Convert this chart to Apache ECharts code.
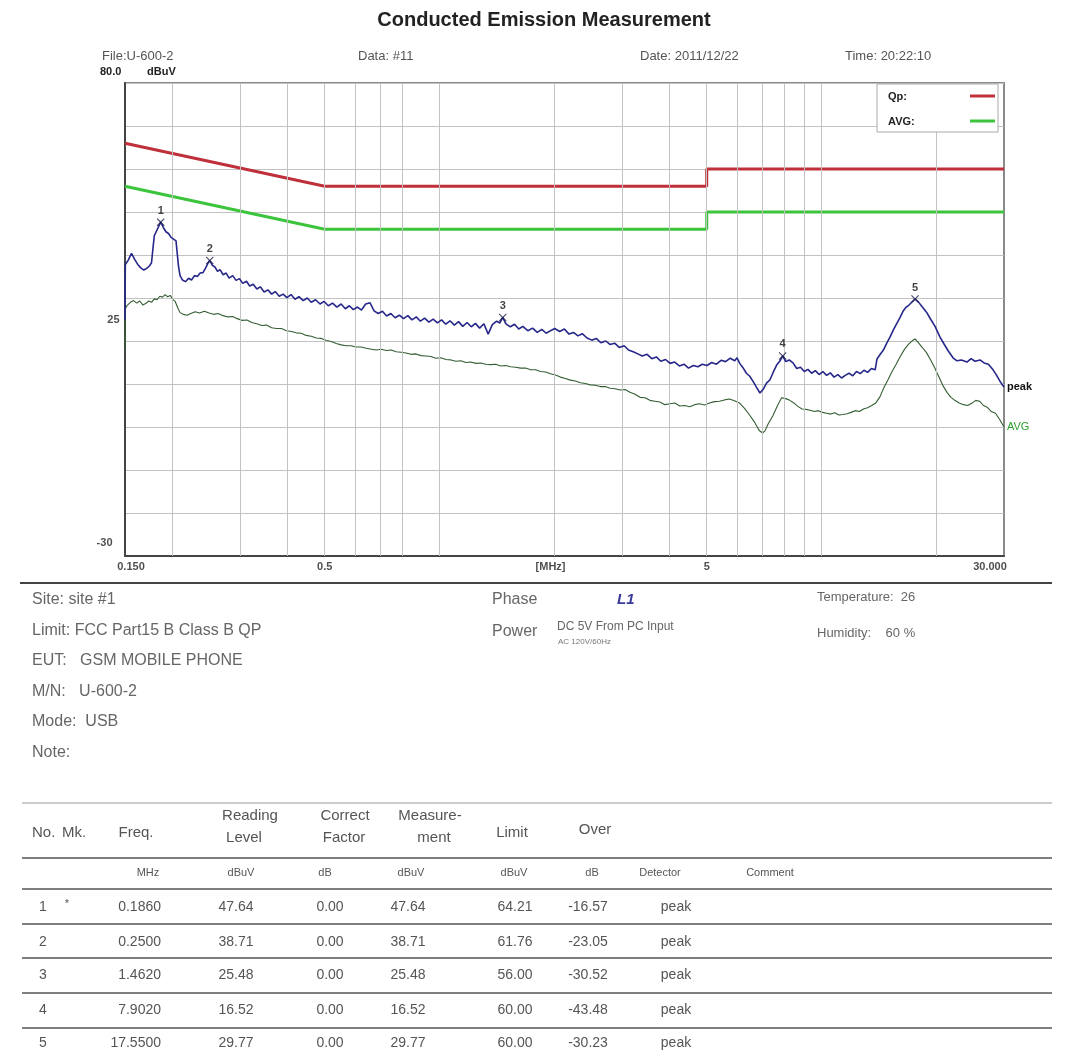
<!DOCTYPE html>
<html><head><meta charset="utf-8">
<script src="https://cdn.jsdelivr.net/npm/echarts@6/dist/echarts.min.js"></script>
<style>html,body{margin:0;padding:0;background:#fff}#c{width:1074px;height:1057px}</style>
</head><body><div id="c"></div>
<script>
// ---------------- DATA ----------------
const peakTrace = [[0.150,25.0],[0.1503,37.8],[0.153,38.8],[0.156,40.4],[0.159,39.0],[0.162,37.8],[0.165,37.0],[0.168,36.5],[0.171,36.9],[0.174,37.5],[0.176,38.2],[0.1775,41.5],[0.179,44.5],[0.181,45.4],[0.183,46.3],[0.186,47.64],[0.189,46.4],[0.192,45.4],[0.195,45.0],[0.198,44.1],[0.201,43.7],[0.204,43.3],[0.2055,43.0],[0.207,37.5],[0.209,35.2],[0.212,34.2],[0.216,33.8],[0.220,34.6],[0.224,34.2],[0.228,35.2],[0.232,35.0],[0.236,35.8],[0.240,35.9],[0.244,37.0],[0.247,38.0],[0.250,38.71],[0.254,37.6],[0.258,37.2],[0.262,36.2],[0.266,36.6],[0.271,35.4],[0.276,35.8],[0.281,34.6],[0.287,35.2],[0.293,34.1],[0.299,34.5],[0.305,33.4],[0.312,33.9],[0.318,32.8],[0.325,33.2],[0.332,32.1],[0.339,32.6],[0.347,31.4],[0.355,31.9],[0.363,30.9],[0.371,31.5],[0.380,30.4],[0.389,30.9],[0.398,30.1],[0.408,30.8],[0.418,29.7],[0.428,30.3],[0.439,29.4],[0.450,30.0],[0.461,29.0],[0.473,29.6],[0.486,28.6],[0.498,29.2],[0.511,28.2],[0.524,28.8],[0.538,27.9],[0.552,28.6],[0.566,27.5],[0.580,28.2],[0.594,27.3],[0.609,27.9],[0.624,27.2],[0.640,28.6],[0.657,28.9],[0.673,27.0],[0.690,26.4],[0.708,26.9],[0.726,25.8],[0.745,26.4],[0.764,25.4],[0.784,26.0],[0.804,25.2],[0.825,25.9],[0.846,24.9],[0.868,25.6],[0.890,24.6],[0.913,25.3],[0.937,24.4],[0.961,25.1],[0.986,24.2],[1.011,24.9],[1.037,23.9],[1.064,24.7],[1.092,23.7],[1.120,24.5],[1.149,23.4],[1.179,24.3],[1.209,23.3],[1.240,24.1],[1.272,23.0],[1.305,24.0],[1.339,21.6],[1.373,23.8],[1.409,24.6],[1.437,24.2],[1.462,25.48],[1.490,24.0],[1.53,23.3],[1.57,23.9],[1.61,22.8],[1.65,23.4],[1.70,22.4],[1.75,23.0],[1.80,22.0],[1.85,22.7],[1.90,21.8],[1.95,22.4],[2.00,22.9],[2.06,22.2],[2.12,22.8],[2.18,21.6],[2.24,22.0],[2.30,21.2],[2.36,21.7],[2.43,20.7],[2.50,20.2],[2.57,20.6],[2.64,19.6],[2.72,20.0],[2.79,19.2],[2.87,19.5],[2.95,18.5],[3.04,18.9],[3.12,17.9],[3.21,17.5],[3.30,17.0],[3.39,16.5],[3.49,16.9],[3.59,15.9],[3.69,16.3],[3.79,15.3],[3.90,15.7],[4.01,14.8],[4.12,15.1],[4.24,14.2],[4.36,14.6],[4.48,13.7],[4.61,14.3],[4.74,14.0],[4.87,14.6],[5.01,14.3],[5.15,15.0],[5.30,14.6],[5.45,15.5],[5.60,15.2],[5.76,16.0],[5.92,15.4],[6.00,16.1],[6.10,14.8],[6.22,13.8],[6.35,12.5],[6.48,11.8],[6.61,10.6],[6.75,9.2],[6.89,7.9],[7.03,8.8],[7.17,10.2],[7.32,11.0],[7.47,12.8],[7.62,14.4],[7.78,15.4],[7.902,16.52],[8.05,15.2],[8.22,15.6],[8.41,14.9],[8.60,13.6],[8.80,13.9],[9.00,12.9],[9.20,13.4],[9.41,12.5],[9.62,13.1],[9.84,12.2],[10.07,12.9],[10.30,12.0],[10.53,12.6],[10.77,11.6],[11.02,12.2],[11.27,11.4],[11.52,12.0],[11.79,12.5],[12.06,11.9],[12.33,12.9],[12.61,12.4],[12.90,13.2],[13.19,12.7],[13.49,13.6],[13.80,13.3],[13.95,15.8],[14.2,16.8],[14.5,17.9],[14.8,19.5],[15.09,20.9],[15.4,22.6],[15.7,24.0],[16.0,25.3],[16.32,26.9],[16.6,27.8],[16.9,28.3],[17.2,29.0],[17.55,29.77],[17.9,29.1],[18.3,28.0],[18.87,26.5],[19.3,25.0],[19.8,23.4],[20.4,20.9],[20.9,19.3],[21.4,17.8],[22.06,16.1],[22.6,15.4],[23.2,15.6],[24.0,15.1],[24.6,15.9],[25.2,15.3],[25.96,15.6],[26.6,14.9],[27.3,14.6],[28.09,13.3],[28.7,12.0],[29.3,10.6],[30.0,9.3]];

const avgTrace = [[0.150,18],[0.1503,27.5],[0.152,28.3],[0.155,29.0],[0.158,29.4],[0.161,28.8],[0.164,29.3],[0.167,28.4],[0.170,28.7],[0.173,29.3],[0.176,29.0],[0.179,29.8],[0.182,29.6],[0.185,30.4],[0.188,30.2],[0.191,30.8],[0.194,30.3],[0.197,30.6],[0.200,29.7],[0.203,29.2],[0.206,27.8],[0.209,26.6],[0.213,26.2],[0.218,26.0],[0.223,26.4],[0.229,26.8],[0.235,26.5],[0.242,26.9],[0.249,26.5],[0.256,26.2],[0.263,26.4],[0.271,25.9],[0.279,25.6],[0.287,25.7],[0.295,25.2],[0.304,24.8],[0.313,24.9],[0.322,24.3],[0.332,24.0],[0.342,23.6],[0.352,23.7],[0.363,23.1],[0.374,22.9],[0.385,22.9],[0.397,22.4],[0.409,22.2],[0.421,21.9],[0.434,21.8],[0.447,21.3],[0.461,21.1],[0.475,20.7],[0.490,20.6],[0.505,20.1],[0.520,19.9],[0.536,19.4],[0.552,19.1],[0.569,18.9],[0.586,18.9],[0.604,18.6],[0.623,18.6],[0.642,18.3],[0.662,18.1],[0.682,17.9],[0.703,18.1],[0.724,17.8],[0.746,17.9],[0.769,17.5],[0.792,17.4],[0.816,17.2],[0.841,16.9],[0.867,17.0],[0.893,16.6],[0.920,16.5],[0.948,16.4],[0.977,16.0],[1.007,16.1],[1.038,15.7],[1.070,15.6],[1.102,15.3],[1.136,15.4],[1.170,15.0],[1.206,15.1],[1.243,14.8],[1.281,14.9],[1.320,14.6],[1.360,14.5],[1.401,14.6],[1.444,14.2],[1.488,14.3],[1.533,14.0],[1.580,13.9],[1.628,13.7],[1.678,13.7],[1.729,13.3],[1.782,13.3],[1.836,12.9],[1.892,12.8],[1.950,12.4],[2.009,12.1],[2.070,11.6],[2.133,11.3],[2.198,10.9],[2.265,10.7],[2.334,10.3],[2.405,10.1],[2.478,9.8],[2.553,9.7],[2.631,9.4],[2.711,9.4],[2.793,9.0],[2.878,8.9],[2.966,8.6],[3.056,8.7],[3.149,8.1],[3.245,7.6],[3.344,6.9],[3.445,6.8],[3.550,6.2],[3.658,6.0],[3.769,5.8],[3.884,5.2],[4.002,5.4],[4.124,5.6],[4.249,4.9],[4.378,5.0],[4.512,4.7],[4.649,5.2],[4.790,5.4],[4.936,5.1],[5.086,5.6],[5.240,5.9],[5.400,6.0],[5.564,6.3],[5.733,6.5],[5.907,6.1],[6.087,5.6],[6.27,4.4],[6.46,2.9],[6.66,1.2],[6.86,-0.8],[7.0,-1.4],[7.1,-0.9],[7.25,0.8],[7.45,2.6],[7.65,4.9],[7.85,6.8],[8.05,6.6],[8.25,6.2],[8.45,5.6],[8.66,4.8],[8.88,4.2],[9.1,4.1],[9.33,3.9],[9.56,3.6],[9.8,3.8],[10.05,3.4],[10.3,3.2],[10.56,3.0],[10.82,3.3],[11.09,2.8],[11.37,2.9],[11.65,3.1],[11.94,3.4],[12.24,3.8],[12.55,3.6],[12.86,4.2],[13.18,4.5],[13.51,5.0],[13.85,5.6],[14.2,7.0],[14.55,9.2],[14.91,11.0],[15.28,12.9],[15.66,14.6],[16.05,16.4],[16.45,18.0],[16.86,19.2],[17.28,20.1],[17.55,20.5],[17.9,19.6],[18.3,18.6],[18.8,17.3],[19.3,15.5],[19.8,13.6],[20.3,11.5],[20.8,9.5],[21.3,8.0],[21.8,6.9],[22.3,6.2],[22.9,5.6],[23.5,5.2],[24.1,5.0],[24.7,5.5],[25.3,6.2],[25.9,6.0],[26.5,5.0],[27.1,4.6],[27.8,3.6],[28.5,3.2],[29.2,1.8],[30.0,0.0]];

const qpLimitFreq  = [0.15, 0.5, 5, 5, 30];
const qpLimitLevel = [66, 56, 56, 60, 60];
const avLimitFreq  = [0.15, 0.5, 5, 5, 30];
const avLimitLevel = [56, 46, 46, 50, 50];

const markerNo    = ['1', '2', '3', '4', '5'];
const markerFreq  = [0.186, 0.25, 1.462, 7.902, 17.55];
const markerLevel = [47.64, 38.71, 25.48, 16.52, 29.77];

const gridFreqs = [0.2,0.3,0.4,0.5,0.6,0.7,0.8,1,2,3,4,5,6,7,8,9,10,20];
const xTickValues = [0.15, 0.5, 1.95, 5, 30];
const xTickTexts  = ['0.150', '0.5', '[MHz]', '5', '30.000'];
const yTickValues = [25, -30];
const yTickTexts  = ['25', '-30'];

const tblNo      = ['1','2','3','4','5'];
const tblMk      = ['*','','','',''];
const tblFreq    = ['0.1860','0.2500','1.4620','7.9020','17.5500'];
const tblReading = ['47.64','38.71','25.48','16.52','29.77'];
const tblCorrect = ['0.00','0.00','0.00','0.00','0.00'];
const tblMeasure = ['47.64','38.71','25.48','16.52','29.77'];
const tblLimit   = ['64.21','61.76','56.00','60.00','60.00'];
const tblOver    = ['-16.57','-23.05','-30.52','-43.48','-30.23'];
const tblDetector= ['peak','peak','peak','peak','peak'];

// ---------------- RENDER ----------------
const FONT = '"Liberation Sans", Arial, Helvetica, sans-serif';
const chart = echarts.init(document.getElementById('c'), null, {renderer: 'canvas'});

function T(x, y, text, size, o) {
  o = o || {};
  return {type: 'text', x: x, y: y, z: 100, silent: true,
    style: {text: text, font: (o.st || 'normal') + ' ' + (o.w || 'normal') + ' ' + size + 'px ' + FONT,
      fontStyle: o.st || 'normal', fontWeight: o.w || 'normal', fontSize: size, fontFamily: FONT,
      fill: o.c || '#555', textAlign: o.a || 'left', align: o.a || 'left',
      textVerticalAlign: 'middle', verticalAlign: 'middle'}};
}
function L(x1, y1, x2, y2, c, w) {
  return {type: 'line', z: 100, silent: true, shape: {x1: x1, y1: y1, x2: x2, y2: y2}, style: {stroke: c, lineWidth: w}};
}

const g = [];
// title & header
g.push(T(544, 20, 'Conducted Emission Measurement', 20, {w: 'bold', c: '#222', a: 'center'}));
g.push(T(102, 56, 'File:U-600-2', 13));
g.push(T(358, 56, 'Data: #11', 13));
g.push(T(640, 56, 'Date: 2011/12/22', 13));
g.push(T(845, 56, 'Time: 20:22:10', 13));
g.push(T(100, 72, '80.0', 11, {w: 'bold', c: '#222'}));
g.push(T(147, 72, 'dBuV', 11, {w: 'bold', c: '#222'}));
// legend box
g.push({type: 'rect', z: 90, silent: true, shape: {x: 877, y: 84, width: 121, height: 48}, style: {fill: '#fff', stroke: '#aaa', lineWidth: 1}});
g.push(T(888, 97, 'Qp:', 11, {w: 'bold', c: '#222'}));
g.push(T(888, 122, 'AVG:', 11, {w: 'bold', c: '#222'}));
g.push(L(970, 96, 995, 96, '#c0303a', 3));
g.push(L(970, 121, 995, 121, '#3cc43c', 3));
// separator
g.push(L(20, 583, 1052, 583, '#444', 2));
// info block
const infoLines = ['Site: site #1', 'Limit: FCC Part15 B Class B QP', 'EUT:   GSM MOBILE PHONE', 'M/N:   U-600-2', 'Mode:  USB', 'Note:'];
infoLines.forEach((s, i) => g.push(T(32, 600 + i * 30.5, s, 16, {c: '#666'})));
g.push(T(492, 600, 'Phase', 16, {c: '#666'}));
g.push(T(617, 600, 'L1', 15, {w: 'bold', st: 'italic', c: '#3a3a9a'}));
g.push(T(492, 632, 'Power', 16, {c: '#666'}));
g.push(T(557, 627, 'DC 5V From PC Input', 12, {c: '#666'}));
g.push(T(558, 642, 'AC 120V/60Hz', 8, {c: '#777'}));
g.push(T(817, 597, 'Temperature:  26', 13, {c: '#666'}));
g.push(T(817, 633, 'Humidity:    60 %', 13, {c: '#666'}));
// table lines
g.push(L(22, 803, 1052, 803, '#bbb', 1.5));
[858, 889, 924, 958, 993, 1028].forEach(y => g.push(L(22, y, 1052, y, '#555', 1.5)));
// table header
const hc = '#555';
g.push(T(32, 833, 'No.', 15, {c: hc}));
g.push(T(62, 833, 'Mk.', 15, {c: hc}));
g.push(T(136, 833, 'Freq.', 15, {c: hc, a: 'center'}));
g.push(T(250, 816, 'Reading', 15, {c: hc, a: 'center'}));
g.push(T(244, 838, 'Level', 15, {c: hc, a: 'center'}));
g.push(T(345, 816, 'Correct', 15, {c: hc, a: 'center'}));
g.push(T(344, 838, 'Factor', 15, {c: hc, a: 'center'}));
g.push(T(430, 816, 'Measure-', 15, {c: hc, a: 'center'}));
g.push(T(434, 838, 'ment', 15, {c: hc, a: 'center'}));
g.push(T(512, 833, 'Limit', 15, {c: hc, a: 'center'}));
g.push(T(595, 830, 'Over', 15, {c: hc, a: 'center'}));
// units
const uy = 873;
[['MHz', 148], ['dBuV', 241], ['dB', 325], ['dBuV', 411], ['dBuV', 514], ['dB', 592], ['Detector', 660], ['Comment', 770]]
  .forEach(u => g.push(T(u[1], uy, u[0], 11, {c: hc, a: 'center'})));
// rows
const rowY = [907, 942, 975, 1010, 1043];
rowY.forEach((y, i) => {
  g.push(T(43, y, tblNo[i], 14, {c: hc, a: 'center'}));
  if (tblMk[i]) g.push(T(67, y - 3, tblMk[i], 11, {c: hc, a: 'center'}));
  g.push(T(161, y, tblFreq[i], 14, {c: hc, a: 'right'}));
  g.push(T(236, y, tblReading[i], 14, {c: hc, a: 'center'}));
  g.push(T(330, y, tblCorrect[i], 14, {c: hc, a: 'center'}));
  g.push(T(408, y, tblMeasure[i], 14, {c: hc, a: 'center'}));
  g.push(T(515, y, tblLimit[i], 14, {c: hc, a: 'center'}));
  g.push(T(588, y, tblOver[i], 14, {c: hc, a: 'center'}));
  g.push(T(676, y, tblDetector[i], 14, {c: hc, a: 'center'}));
});

const xPath = 'path://M1,0L5,4L9,0L10,1L6,5L10,9L9,10L5,6L1,10L0,9L4,5L0,1Z';
const zip = (a, b) => a.map((v, i) => [v, b[i]]);

const option = {
  animation: false,
  backgroundColor: '#fff',
  grid: {left: 125, top: 83, width: 879, height: 473, show: true, borderColor: '#8a8a8a', borderWidth: 2, backgroundColor: '#fff'},
  xAxis: {type: 'log', logBase: 10, min: 0.15, max: 30,
    axisLine: {show: true, onZero: false, lineStyle: {color: '#444', width: 2}},
    axisTick: {show: false}, axisLabel: {show: false}, splitLine: {show: false}},
  yAxis: {type: 'value', min: -30, max: 80, interval: 10,
    axisLine: {show: true, onZero: false, lineStyle: {color: '#444', width: 2}},
    axisTick: {show: false}, axisLabel: {show: false},
    splitLine: {show: true, lineStyle: {color: '#c2c2c2', width: 1}}},
  series: [
    {type: 'line', z: 1, data: [], silent: true,
      markLine: {silent: true, symbol: ['none', 'none'], label: {show: false},
        lineStyle: {color: '#c2c2c2', width: 1, type: 'solid'},
        data: gridFreqs.map(f => ({xAxis: f}))}},
    {type: 'line', z: 3, name: 'QP limit', data: zip(qpLimitFreq, qpLimitLevel), symbol: 'none',
      lineStyle: {color: '#c0303a', width: 3}, silent: true},
    {type: 'line', z: 3, name: 'AV limit', data: zip(avLimitFreq, avLimitLevel), symbol: 'none',
      lineStyle: {color: '#3cc43c', width: 3}, silent: true},
    {type: 'line', z: 4, name: 'AVG', data: avgTrace, symbol: 'none', silent: true,
      lineStyle: {color: '#345e34', width: 1.1},
      endLabel: {show: true, formatter: 'AVG', color: '#2fa02f', fontSize: 11, fontFamily: FONT, distance: 3}},
    {type: 'line', z: 5, name: 'peak', data: peakTrace, symbol: 'none', silent: true,
      lineStyle: {color: '#27278a', width: 1.6},
      endLabel: {show: true, formatter: 'peak', color: '#111', fontSize: 11, fontWeight: 'bold', fontFamily: FONT, distance: 3}},
    {type: 'scatter', z: 6, silent: true, clip: false, symbol: xPath, symbolSize: 8,
      itemStyle: {color: '#1c1c4a'},
      label: {show: true, position: 'top', distance: 2, color: '#111', fontSize: 11, fontWeight: 'bold', fontFamily: FONT,
        formatter: p => markerNo[p.dataIndex]},
      data: zip(markerFreq, markerLevel)},
    {type: 'scatter', z: 7, silent: true, clip: false, symbolSize: 1, itemStyle: {color: 'rgba(0,0,0,0)'},
      label: {show: true, position: 'bottom', distance: 5, color: '#222', fontSize: 11, fontWeight: 'bold', fontFamily: FONT,
        formatter: p => xTickTexts[p.dataIndex]},
      data: xTickValues.map((v, i) => ({value: [v, -30], label: {offset: [i === 0 ? 6 : (i === 4 ? -14 : 0), 0]}}))},
    {type: 'scatter', z: 7, silent: true, clip: false, symbolSize: 1, itemStyle: {color: 'rgba(0,0,0,0)'},
      label: {show: true, position: 'left', distance: 5, color: '#222', fontSize: 11, fontWeight: 'bold', fontFamily: FONT,
        formatter: p => yTickTexts[p.dataIndex]},
      data: yTickValues.map((v, i) => ({value: [0.15, v], label: i === 1 ? {offset: [-7, -13]} : {}}))}
  ],
  graphic: {elements: g}
};
chart.setOption(option);
</script>
</body></html>
